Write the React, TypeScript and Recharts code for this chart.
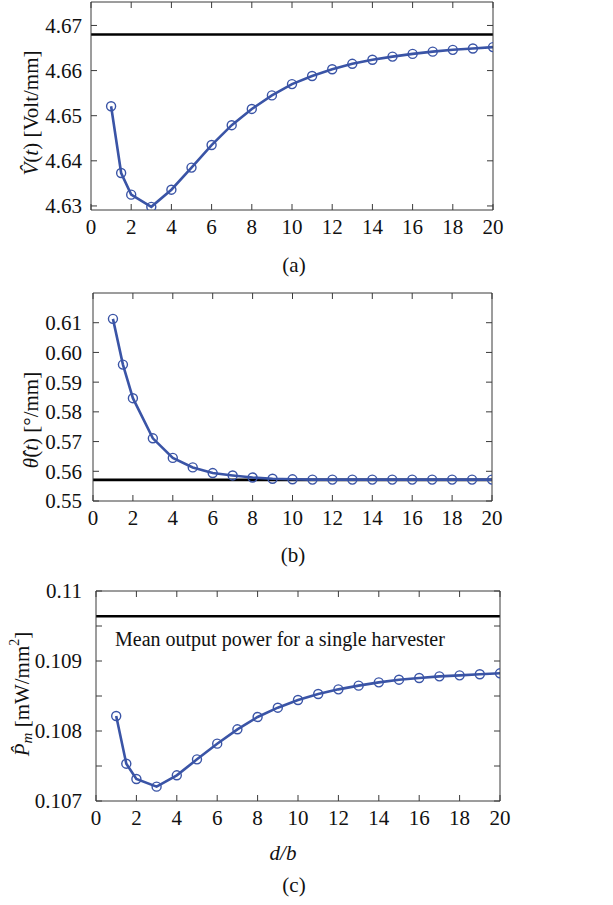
import React from 'react';
import { LineChart, Line, XAxis, YAxis, ReferenceLine } from 'recharts';

// spacing ratio d/b
const dRatio = [1, 1.5, 2, 3, 4, 5, 6, 7, 8, 9, 10, 11, 12, 13, 14, 15, 16, 17, 18, 19, 20];

// (a) voltage per mm
const voltage = [
  4.6521, 4.6373, 4.6325, 4.6298, 4.6336, 4.6385, 4.6435, 4.6479, 4.6515, 4.6545, 4.6570,
  4.6588, 4.6603, 4.6615, 4.6624, 4.6631, 4.6637, 4.6642, 4.6646, 4.6649, 4.6652,
];
// (b) rotation per mm
const rotation = [
  0.6113, 0.5959, 0.5846, 0.5711, 0.5645, 0.5613, 0.5594, 0.5586, 0.5579, 0.5575, 0.5573,
  0.5572, 0.5572, 0.5572, 0.5572, 0.5572, 0.5572, 0.5572, 0.5572, 0.5572, 0.5572,
];
// (c) mean output power
const power = [
  0.108214, 0.107533, 0.107314, 0.107205, 0.107367, 0.107595, 0.107819, 0.108024, 0.1082,
  0.108333, 0.108443, 0.108529, 0.108595, 0.108648, 0.108695, 0.108733, 0.108757, 0.108781,
  0.108795, 0.10881, 0.108824,
];

// single harvester reference values
const singleVoltage = 4.668;
const singleRotation = 0.5571;
const singlePower = 0.10964;

const xTicks = [0, 2, 4, 6, 8, 10, 12, 14, 16, 18, 20];
const voltTicks = [4.63, 4.64, 4.65, 4.66, 4.67];
const rotTicks = [0.55, 0.56, 0.57, 0.58, 0.59, 0.6, 0.61];
const powerTicks = [0.107, 0.1075, 0.108, 0.1085, 0.109, 0.1095, 0.11];

const FONT = '"Liberation Serif", "Times New Roman", serif';
const BLUE = '#3a54a6';
const AXIS = '#3a3a3a';

const voltData = dRatio.map((d, i) => ({ d, y: voltage[i] }));
const rotData = dRatio.map((d, i) => ({ d, y: rotation[i] }));
const powerData = dRatio.map((d, i) => ({ d, y: power[i] }));

type PanelProps = {
  top: number;
  height: number;
  plot: { left: number; right: number; top: number; bottom: number };
  data: { d: number; y: number }[];
  domain: [number, number];
  yTicks: number[];
  yFmt: (v: number) => string;
  yTickMargin: number;
  refValue: number;
  refLabel?: string;
  yLabel: React.ReactNode;
  yLabelPos: { x: number; y: number };
};

const Panel = (p: PanelProps) => {
  const margin = {
    top: p.plot.top,
    left: 0,
    right: 613 - p.plot.right,
    bottom: p.height - p.plot.bottom - 30,
  };
  const tickStyle = { fontFamily: FONT, fontSize: 21, fill: '#111' };
  return (
    <div style={{ position: 'absolute', left: 0, top: p.top }}>
      <LineChart width={613} height={p.height} data={p.data} margin={margin}>
        <XAxis
          dataKey="d"
          type="number"
          domain={[0, 20]}
          ticks={xTicks}
          interval={0}
          allowDataOverflow
          height={30}
          tickSize={-6}
          tickMargin={15}
          tick={tickStyle}
          stroke={AXIS}
          tickLine={{ stroke: AXIS }}
        />
        <XAxis
          xAxisId="top"
          dataKey="d"
          type="number"
          orientation="top"
          mirror
          domain={[0, 20]}
          ticks={xTicks}
          interval={0}
          allowDataOverflow
          tickFormatter={() => ''}
          stroke={AXIS}
        />
        <YAxis
          type="number"
          domain={p.domain}
          ticks={p.yTicks}
          interval={0}
          allowDataOverflow
          width={p.plot.left}
          tickSize={-6}
          tickMargin={p.yTickMargin}
          tickFormatter={p.yFmt}
          tick={tickStyle}
          stroke={AXIS}
          label={{
            content: () => (
              <text
                transform={`translate(${p.yLabelPos.x},${p.yLabelPos.y}) rotate(-90)`}
                textAnchor="middle"
                dominantBaseline="central"
                fontFamily={FONT}
                fontSize={21}
                fill="#111"
              >
                {p.yLabel}
              </text>
            ),
          }}
        />
        <YAxis
          yAxisId="right"
          type="number"
          orientation="right"
          mirror
          domain={p.domain}
          ticks={p.yTicks}
          interval={0}
          allowDataOverflow
          tickFormatter={() => ''}
          stroke={AXIS}
        />
        <ReferenceLine
          y={p.refValue}
          stroke="#000"
          strokeWidth={2.6}
          label={
            p.refLabel
              ? {
                  content: (props: any) => (
                    <text
                      x={props.viewBox.x + 19}
                      y={props.viewBox.y + 30}
                      fontFamily={FONT}
                      fontSize={20}
                      fill="#111"
                    >
                      {p.refLabel}
                    </text>
                  ),
                }
              : undefined
          }
        />
        <Line
          dataKey="y"
          type="linear"
          stroke={BLUE}
          strokeWidth={2.6}
          dot={{ r: 4.5, stroke: BLUE, strokeWidth: 1.4, fill: 'none' }}
          isAnimationActive={false}
        />
      </LineChart>
    </div>
  );
};

const caption: React.CSSProperties = {
  position: 'absolute',
  fontFamily: FONT,
  fontSize: 21,
  color: '#111',
  transform: 'translate(-50%, -50%)',
  whiteSpace: 'nowrap',
  lineHeight: 1,
};

export default function App() {
  return (
    <div
      style={{
        position: 'absolute',
        left: 0,
        top: 0,
        width: 613,
        height: 905,
        background: '#fff',
        fontFamily: FONT,
      }}
    >
      <Panel
        top={0}
        height={290}
        plot={{ left: 91, right: 493, top: 2, bottom: 210 }}
        data={voltData}
        domain={[4.6291, 4.6752]}
        yTicks={voltTicks}
        yFmt={(v) => v.toFixed(2)}
        yTickMargin={15}
        refValue={singleVoltage}
        yLabelPos={{ x: 31, y: 113 }}
        yLabel={
          <>
            <tspan fontStyle="italic">{'V\u0302'}</tspan>
            <tspan>(</tspan>
            <tspan fontStyle="italic">t</tspan>
            <tspan>) [Volt/mm]</tspan>
          </>
        }
      />
      <div style={{ ...caption, left: 294, top: 265 }}>(a)</div>

      <Panel
        top={290}
        height={290}
        plot={{ left: 93, right: 492, top: 3, bottom: 211 }}
        data={rotData}
        domain={[0.55, 0.62]}
        yTicks={rotTicks}
        yFmt={(v) => v.toFixed(2)}
        yTickMargin={17}
        refValue={singleRotation}
        yLabelPos={{ x: 31, y: 130 }}
        yLabel={
          <>
            <tspan fontStyle="italic">{'\u03b8\u0302'}</tspan>
            <tspan>(</tspan>
            <tspan fontStyle="italic">t</tspan>
            <tspan>) [°/mm]</tspan>
          </>
        }
      />
      <div style={{ ...caption, left: 293, top: 555 }}>(b)</div>

      <Panel
        top={580}
        height={325}
        plot={{ left: 96, right: 500, top: 11, bottom: 221 }}
        data={powerData}
        domain={[0.107, 0.11]}
        yTicks={powerTicks}
        yFmt={(v) => (Math.abs(v * 1000 - Math.round(v * 1000)) < 1e-6 ? String(Number(v.toFixed(3))) : '')}
        yTickMargin={20}
        refValue={singlePower}
        refLabel="Mean output power for a single harvester"
        yLabelPos={{ x: 22, y: 114 }}
        yLabel={
          <>
            <tspan fontStyle="italic">{'P\u0302'}</tspan>
            <tspan fontStyle="italic" fontSize={15} dy={5}>m</tspan>
            <tspan dy={-5}> [mW/mm</tspan>
            <tspan fontSize={14} dy={-8}>2</tspan>
            <tspan dy={8}>]</tspan>
          </>
        }
      />
      <div style={{ ...caption, left: 283, top: 853, fontStyle: 'italic' }}>d/b</div>
      <div style={{ ...caption, left: 294, top: 885 }}>(c)</div>
    </div>
  );
}
